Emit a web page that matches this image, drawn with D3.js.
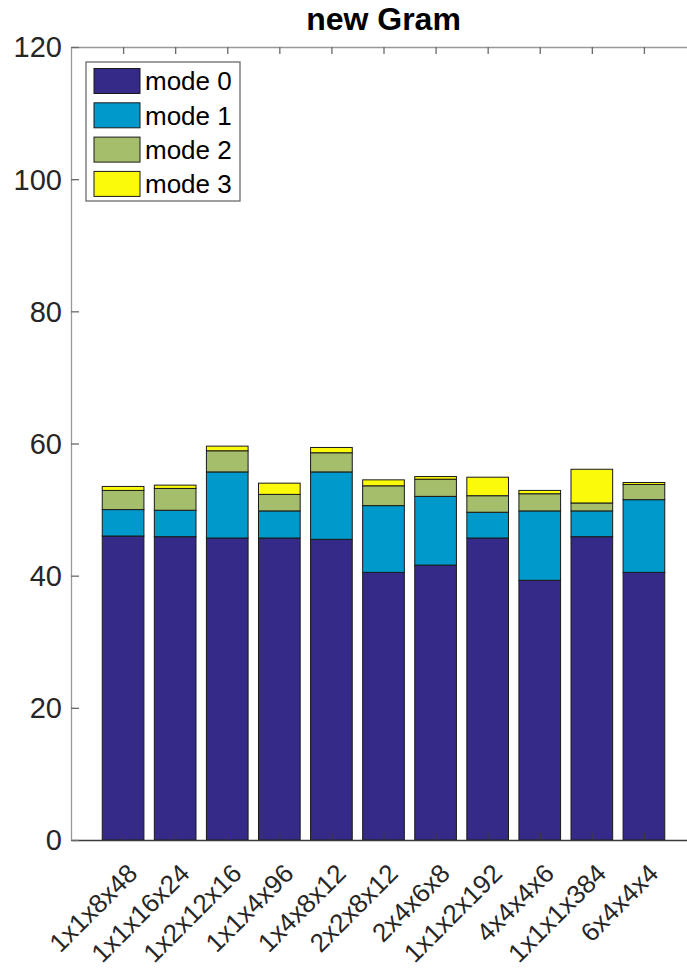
<!DOCTYPE html>
<html>
<head>
<meta charset="utf-8">
<script src="https://cdn.jsdelivr.net/npm/d3@7"></script>
<style>
  html, body { margin: 0; padding: 0; background: #fff; }
  svg { display: block; font-family: "Liberation Sans", Arial, Helvetica, sans-serif; }
</style>
</head>
<body>
<svg id="chart" width="687" height="973"></svg>
<script>
// Block shapes and their per-mode timings (stacked)
const categories = ["1x1x8x48", "1x1x16x24", "1x2x12x16", "1x1x4x96", "1x4x8x12", "2x2x8x12",
                    "2x4x6x8", "1x1x2x192", "4x4x4x6", "1x1x1x384", "6x4x4x4"];
const mode0 = [46.0, 45.9, 45.7, 45.7, 45.5, 40.5, 41.6, 45.7, 39.3, 45.9, 40.5];
const mode1 = [4.0, 4.0, 10.0, 4.1, 10.2, 10.1, 10.4, 3.9, 10.5, 3.9, 11.0];
const mode2 = [2.9, 3.3, 3.2, 2.5, 2.9, 3.0, 2.6, 2.5, 2.6, 1.2, 2.3];
const mode3 = [0.6, 0.5, 0.7, 1.7, 0.8, 0.9, 0.4, 2.8, 0.5, 5.1, 0.3];
const seriesNames = ["mode 0", "mode 1", "mode 2", "mode 3"];
const yTicks = [0, 20, 40, 60, 80, 100, 120];
const titleText = "new Gram";

const colors = ["#352a87", "#0099cc", "#a5be6b", "#fafa0a"];

const svg = d3.select("#chart");
const plotL = 71, plotR = 696, plotT = 47, plotB = 840;

const x = d3.scaleLinear().domain([0, categories.length + 1]).range([plotL, plotR]);
const y = d3.scaleLinear().domain([0, 120]).range([plotB, plotT]);
const barW = x(0.8) - x(0);

const rows = categories.map((c, i) => ({
  idx: i + 1, m0: mode0[i], m1: mode1[i], m2: mode2[i], m3: mode3[i]
}));
const keys = ["m0", "m1", "m2", "m3"];
const stacked = d3.stack().keys(keys)(rows);

// stacked bars
const layers = svg.append("g").selectAll("g")
  .data(stacked).join("g")
  .attr("fill", (d, i) => colors[i]);
layers.selectAll("rect")
  .data(d => d).join("rect")
  .attr("x", d => x(d.data.idx) - barW / 2)
  .attr("width", barW)
  .attr("y", d => y(d[1]))
  .attr("height", d => y(d[0]) - y(d[1]))
  .attr("stroke", "#1a1a1a")
  .attr("stroke-width", 1);

// axes box with inward ticks
const axisColor = "#262626";
const tickIdx = d3.range(1, categories.length + 1);
const gTop = svg.append("g").attr("transform", `translate(0,${plotT})`)
  .call(d3.axisBottom(x).tickValues(tickIdx).tickSize(7).tickSizeOuter(0).tickFormat(""));
const gBot = svg.append("g").attr("transform", `translate(0,${plotB})`)
  .call(d3.axisTop(x).tickValues(tickIdx).tickSize(7).tickSizeOuter(0).tickFormat(""));
const gLeft = svg.append("g").attr("transform", `translate(${plotL},0)`)
  .call(d3.axisRight(y).tickValues(yTicks).tickSize(8).tickSizeOuter(0).tickFormat(""));
const gRight = svg.append("g").attr("transform", `translate(${plotR},0)`)
  .call(d3.axisLeft(y).tickValues(yTicks).tickSize(8).tickSizeOuter(0).tickFormat(""));
[gTop, gLeft, gRight].forEach(g => {
  g.select(".domain").attr("stroke", "#999").attr("stroke-width", 1.3);
  g.selectAll(".tick line").attr("stroke", "#6a6a6a").attr("stroke-width", 1.3);
});
gBot.select(".domain").attr("stroke", "#3a3a3a").attr("stroke-width", 1.5);
gBot.selectAll(".tick line").attr("stroke", "#3a3a3a");

// y tick labels
svg.append("g").selectAll("text")
  .data(yTicks).join("text")
  .attr("x", plotL - 9)
  .attr("y", d => y(d))
  .attr("dy", "0.36em")
  .attr("text-anchor", "end")
  .attr("font-size", 29)
  .attr("fill", axisColor)
  .text(d => d);

// rotated x tick labels
svg.append("g").selectAll("text")
  .data(categories).join("text")
  .attr("transform", (d, i) => `translate(${x(i + 1) + 16},${plotB + 35}) rotate(-45)`)
  .attr("text-anchor", "end")
  .attr("font-size", 26)
  .attr("fill", axisColor)
  .text(d => d);

// title
svg.append("text")
  .attr("x", (plotL + plotR) / 2)
  .attr("y", 30)
  .attr("text-anchor", "middle")
  .attr("font-size", 32)
  .attr("font-weight", "bold")
  .attr("fill", "#000")
  .text(titleText);

// legend
const lg = svg.append("g");
lg.append("rect")
  .attr("x", 86).attr("y", 62).attr("width", 154).attr("height", 139)
  .attr("fill", "#fff").attr("stroke", "#6a6a6a").attr("stroke-width", 1.3);
const items = lg.selectAll("g.item").data(seriesNames).join("g")
  .attr("transform", (d, i) => `translate(94,${68.5 + i * 34.3})`);
items.append("rect")
  .attr("width", 46).attr("height", 25)
  .attr("fill", (d, i) => colors[i])
  .attr("stroke", "#1a1a1a").attr("stroke-width", 1);
items.append("text")
  .attr("x", 51).attr("y", 12.5).attr("dy", "0.36em")
  .attr("font-size", 26)
  .attr("fill", "#000")
  .text(d => d);
</script>
</body>
</html>
